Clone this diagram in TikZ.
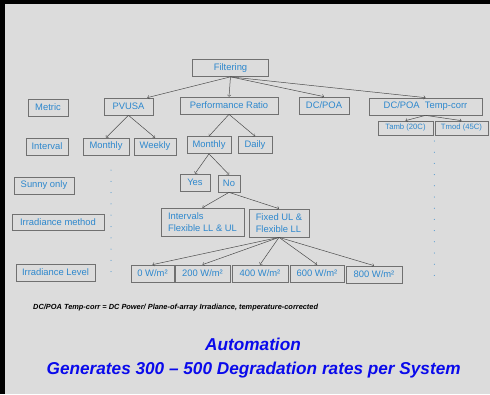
\documentclass[tikz,border=0pt]{standalone}
\usepackage{fontspec}
\setmainfont{Liberation Sans}

\definecolor{slidegray}{RGB}{220,220,220}
\definecolor{boxgray}{RGB}{112,112,112}
\definecolor{labelblue}{RGB}{45,135,205}
\definecolor{headblue}{RGB}{10,10,235}

\tikzset{
  box/.style={draw=boxgray, line width=0.7pt, fill=slidegray, text=labelblue,
    font=\fontsize{9.4}{12}\selectfont, minimum height=17, inner sep=1pt},
  smallbox/.style={box, font=\fontsize{7.7}{9}\selectfont, minimum height=14},
  link/.style={draw=black!70, line width=0.5pt},
  arr/.style={link, -to},
}

\begin{document}
\begin{tikzpicture}[x=1pt, y=-1pt]
\useasboundingbox (0,0) rectangle (490,394);

% slide
\fill[slidegray] (0,0) rectangle (490,394);
\fill[black] (0,0) rectangle (490,4);
\fill[black] (0,0) rectangle (5,394);

% row labels
\node[box, minimum width=40] (metric)    at (48,107.5)  {Metric};
\node[box, minimum width=42] (interval)  at (47,146.5)  {Interval};
\node[box, minimum width=60] (sunny)     at (44,185.5)  {Sunny only};
\node[box, minimum width=92, minimum height=16] (irrmethod) at (58,222) {Irradiance method};
\node[box, minimum width=79] (irrlevel)  at (55.5,272.5) {Irradiance Level};

% filtering and metrics
\node[box, minimum width=76]  (filter)    at (230.5,68)   {Filtering};
\node[box, minimum width=49]  (pvusa)     at (128.5,106.5) {PVUSA};
\node[box, minimum width=98]  (perfratio) at (229,105.5)  {Performance Ratio};
\node[box, minimum width=50]  (dcpoa)     at (324,105.5)  {DC/POA};
\node[box, minimum width=113] (dcpoatc)   at (425.5,106.5) {DC/POA\ \ Temp-corr};

% intervals
\node[box, minimum width=46] (pvmonthly) at (106,146.5) {Monthly};
\node[box, minimum width=42] (pvweekly)  at (155,146.5) {Weekly};
\node[box, minimum width=44] (prmonthly) at (209,145)   {Monthly};
\node[box, minimum width=34] (prdaily)   at (255,145)   {Daily};
\node[smallbox, minimum width=55] (tamb) at (405.5,128) {Tamb (20C)};
\node[smallbox, minimum width=53] (tmod) at (461.5,128) {Tmod (45C)};

% sunny only
\node[box, minimum width=30] (yes) at (195,182.5) {Yes};
\node[box, minimum width=22] (no)  at (229,183.5) {No};

% irradiance method
\node[box, minimum width=83, minimum height=28, align=left] (flexible) at (202.5,222) {Intervals\\Flexible LL \& UL};
\node[box, minimum width=60, minimum height=28, align=left] (fixed)    at (279,223)   {Fixed UL \&\\Flexible LL};

% irradiance levels
\node[box, minimum width=43] (lvlzero)  at (152.5,273.5) {0 W/m²};
\node[box, minimum width=55] (lvltwo)   at (202.5,273.5) {200 W/m²};
\node[box, minimum width=56] (lvlfour)  at (260,273.5)   {400 W/m²};
\node[box, minimum width=54] (lvlsix)   at (317,273.5)   {600 W/m²};
\node[box, minimum width=56] (lvleight) at (374,274.5)   {800 W/m²};

% tree
\draw[arr] (filter.south) -- ([xshift=-6]pvusa.north east);
\draw[arr] (filter.south) -- (perfratio.north);
\draw[arr] (filter.south) -- (dcpoa.north);
\draw[arr] (filter.south) -- (dcpoatc.north);
\draw[arr] (pvusa.south) -- (pvmonthly.north);
\draw[arr] (pvusa.south) -- (pvweekly.north);
\draw[arr] (perfratio.south) -- (prmonthly.north);
\draw[arr] (perfratio.south) -- (prdaily.north);
\draw[arr] (dcpoatc.south) -- (tamb.north);
\draw[arr] (dcpoatc.south) -- (tmod.north);
\draw[arr] (prmonthly.south) -- (yes.north);
\draw[arr] (prmonthly.south) -- (no.north);
\draw[arr] (no.south) -- (flexible.north);
\draw[arr] (no.south) -- (fixed.north);
\draw[arr] (fixed.south) -- (lvlzero.north);
\draw[arr] (fixed.south) -- (lvltwo.north);
\draw[arr] (fixed.south) -- (lvlfour.north);
\draw[arr] (fixed.south) -- (lvlsix.north);
\draw[arr] (fixed.south) -- (lvleight.north);

% continuation dots
\foreach \i in {0,...,9}
  \fill[labelblue] (111,{170+11.3*\i}) circle (0.5);
\foreach \i in {0,...,12}
  \fill[labelblue] (434.3,{141+11.2*\i}) circle (0.5);

% footnote and summary
\node[anchor=west, inner sep=0, font=\fontsize{7.4}{9}\selectfont\bfseries\itshape] (note) at (33,308)
  {DC/POA Temp-corr = DC Power/ Plane-of-array Irradiance, temperature-corrected};
\node[text=headblue, font=\fontsize{17.2}{20}\selectfont\bfseries\itshape] (auto) at (253,344) {Automation};
\node[text=headblue, font=\fontsize{17.2}{20}\selectfont\bfseries\itshape] (rates) at (253.7,370)
  {Generates 300 – 500 Degradation rates per System};

\end{tikzpicture}
\end{document}
